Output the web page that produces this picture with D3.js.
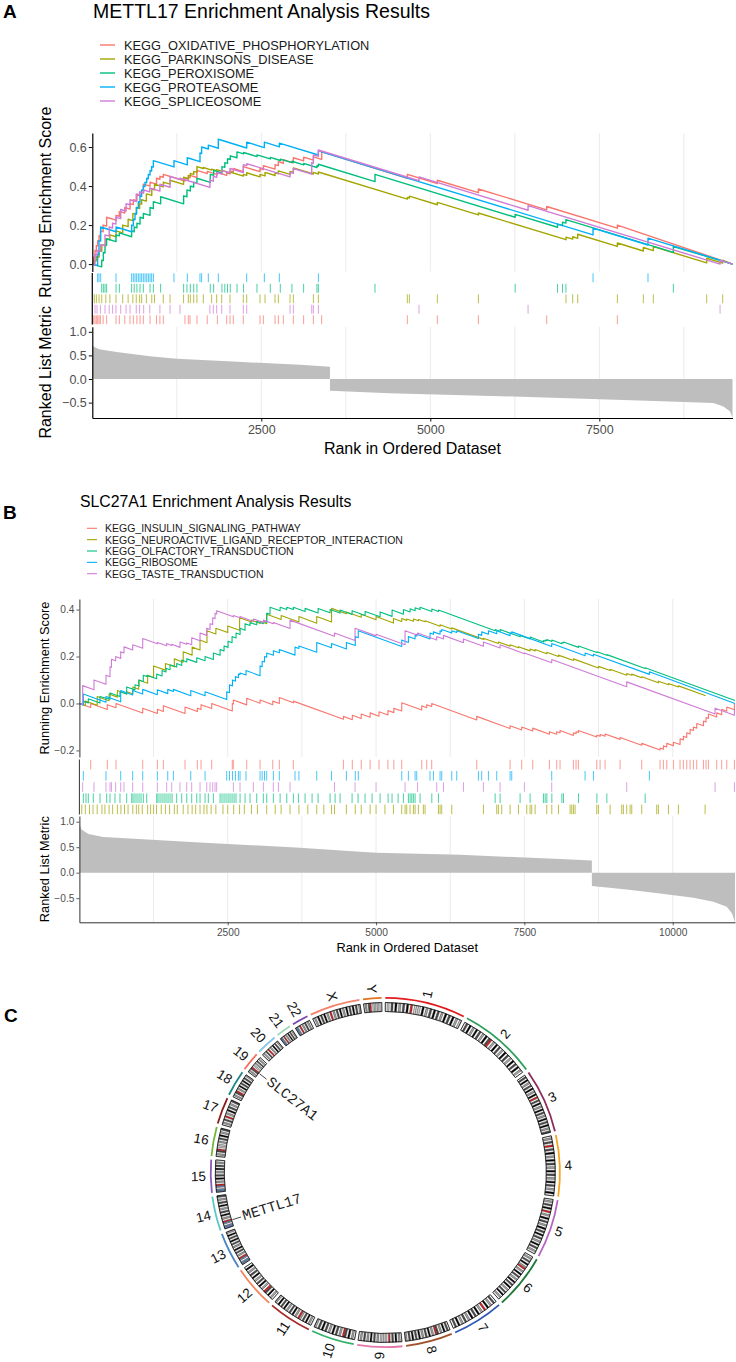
<!DOCTYPE html>
<meta charset="utf-8">
<style>
    body { margin: 0; background: #fff; }
    svg { display: block; font-family: "Liberation Sans", Arial, Helvetica, sans-serif; }
    .tick text { fill: #4d4d4d; }
</style>
<body>
<svg id="fig"></svg>
</body>
<script src="https://cdn.jsdelivr.net/npm/d3@7"></script>
<script>

    // ---------- panel A data (METTL17) ----------
    var setsA = ['KEGG_OXIDATIVE_PHOSPHORYLATION', 'KEGG_PARKINSONS_DISEASE', 'KEGG_PEROXISOME',
        'KEGG_PROTEASOME', 'KEGG_SPLICEOSOME'];
    var sizeA = 9470;
    // running enrichment score: [rank, before hit, after hit]
    var esOxphos = [[0,0,0],[20,0,0.035],[40,0.033,0.07],[60,0.068,0.095],[80,0.093,0.12],[100,0.118,0.145],[120,0.143,0.17],[160,0.166,0.2],[212,0.195,0.24],[351,0.225,0.25],[400,0.245,0.27],[480,0.262,0.29],[558,0.282,0.31],[607,0.305,0.33],[660,0.325,0.355],[706,0.35,0.37],[755,0.365,0.41],[854,0.4,0.42],[950,0.41,0.44],[1000,0.435,0.45],[1050,0.445,0.46],[1371,0.426,0.44],[1420,0.435,0.445],[1445,0.442,0.455],[1548,0.444,0.48],[1700,0.464,0.475],[1850,0.459,0.47],[1988,0.455,0.468],[2037,0.463,0.478],[2086,0.473,0.49],[2234,0.474,0.5],[2481,0.474,0.49],[2530,0.485,0.505],[2703,0.487,0.51],[2752,0.505,0.525],[2826,0.517,0.535],[2974,0.519,0.545],[3126,0.529,0.548],[3270,0.533,0.55],[3393,0.537,0.575],[4660,0.44,0.46],[5104,0.413,0.43],[5711,0.366,0.385],[6722,0.278,0.295],[7767,0.184,0.2],[9470,0,0]];
    var esParkinson = [[0,0,0],[30,-0.003,0.02],[60,0.017,0.04],[100,0.036,0.07],[140,0.066,0.1],[200,0.094,0.13],[260,0.124,0.15],[351,0.14,0.17],[450,0.16,0.2],[530,0.192,0.23],[600,0.223,0.26],[650,0.255,0.29],[700,0.285,0.31],[730,0.307,0.33],[800,0.323,0.36],[880,0.352,0.385],[920,0.381,0.41],[1050,0.396,0.42],[1150,0.41,0.43],[1350,0.409,0.445],[1420,0.438,0.455],[1450,0.452,0.465],[1500,0.46,0.475],[1548,0.47,0.5],[1642,0.49,0.495],[1765,0.482,0.487],[1840,0.479,0.484],[1914,0.476,0.48],[2037,0.467,0.472],[2234,0.451,0.46],[2284,0.455,0.468],[2481,0.447,0.46],[2555,0.452,0.47],[2703,0.454,0.468],[2752,0.463,0.478],[2925,0.46,0.475],[2974,0.47,0.493],[3270,0.462,0.47],[3344,0.462,0.472],[4660,0.333,0.342],[4690,0.339,0.348],[5104,0.304,0.316],[5711,0.252,0.262],[7007,0.125,0.138],[7106,0.128,0.14],[7180,0.132,0.153],[7767,0.091,0.108],[8151,0.067,0.085],[8299,0.069,0.09],[9088,0.006,0.03],[9325,0.005,0.02],[9470,0,0]];
    var esPeroxisome = [[0,0,0],[139,-0.014,0.02],[163,0.018,0.06],[188,0.057,0.1],[212,0.097,0.13],[351,0.115,0.15],[400,0.145,0.16],[582,0.14,0.17],[620,0.166,0.19],[660,0.186,0.21],[706,0.205,0.24],[755,0.235,0.26],[854,0.25,0.29],[903,0.285,0.32],[1011,0.309,0.345],[1351,0.309,0.35],[1400,0.345,0.38],[1450,0.375,0.4],[1500,0.395,0.42],[1548,0.415,0.44],[1745,0.419,0.46],[1795,0.455,0.48],[1918,0.467,0.5],[1960,0.496,0.52],[2000,0.516,0.54],[2041,0.536,0.555],[2140,0.545,0.575],[2238,0.565,0.572],[2436,0.551,0.56],[2633,0.539,0.547],[2781,0.531,0.538],[2953,0.52,0.527],[3126,0.509,0.516],[3323,0.495,0.505],[3344,0.503,0.512],[4182,0.423,0.46],[6255,0.24,0.255],[6882,0.189,0.205],[6956,0.197,0.215],[7006,0.21,0.228],[8595,0.06,0.09],[9470,0,0]];
    var esProteasome = [[0,0,0],[79,-0.008,0.05],[99,0.048,0.12],[124,0.118,0.19],[351,0.166,0.19],[582,0.166,0.2],[607,0.197,0.23],[632,0.227,0.26],[656,0.257,0.29],[681,0.287,0.32],[706,0.317,0.35],[730,0.347,0.38],[755,0.377,0.4],[780,0.397,0.42],[805,0.417,0.44],[829,0.437,0.46],[854,0.457,0.48],[878,0.477,0.5],[903,0.497,0.53],[1208,0.498,0.53],[1405,0.509,0.545],[1593,0.525,0.57],[1617,0.567,0.6],[1716,0.59,0.61],[1864,0.594,0.64],[2284,0.595,0.625],[2545,0.597,0.625],[2767,0.601,0.62],[3344,0.559,0.58],[7407,0.15,0.184],[8220,0.098,0.133],[9470,0,0]];
    var esSpliceosome = [[0,0,0],[40,-0.004,0.05],[70,0.047,0.07],[120,0.065,0.1],[188,0.093,0.15],[250,0.143,0.19],[300,0.185,0.21],[350,0.205,0.24],[420,0.233,0.28],[500,0.272,0.31],[558,0.304,0.33],[650,0.32,0.36],[700,0.355,0.37],[760,0.364,0.38],[850,0.37,0.39],[1000,0.374,0.41],[1150,0.394,0.45],[1297,0.434,0.44],[1740,0.393,0.43],[1790,0.425,0.45],[1840,0.445,0.47],[1914,0.462,0.48],[2037,0.467,0.49],[2234,0.469,0.51],[2284,0.505,0.515],[2925,0.447,0.47],[2974,0.465,0.49],[3246,0.461,0.52],[3270,0.517,0.56],[3344,0.552,0.585],[4833,0.427,0.447],[6446,0.276,0.3],[9286,0,0.02],[9470,0,0]];
    // gene hits (rank positions)
    var hitsOxphos = [20,40,60,80,100,120,160,212,351,400,480,558,607,660,706,755,854,950,1000,1050,1371,1420,1445,1548,1700,1850,1988,2037,2086,2234,2481,2530,2703,2752,2826,2974,3126,3270,3393,4660,5104,5711,6722,7767];
    var hitsParkinson = [30,60,100,140,200,260,351,450,530,600,650,700,730,800,880,920,1050,1150,1350,1420,1450,1500,1548,1642,1765,1840,1914,2037,2234,2284,2481,2555,2703,2752,2925,2974,3270,3344,4660,4690,5104,5711,7007,7106,7180,7767,8151,8299,9088,9325];
    var hitsPeroxisome = [139,163,188,212,351,400,582,620,660,706,755,854,903,1011,1351,1400,1450,1500,1548,1745,1795,1918,1960,2000,2041,2140,2238,2436,2633,2781,2953,3126,3323,3344,4182,6255,6882,6956,7006,8595];
    var hitsProteasome = [79,99,124,351,582,607,632,656,681,706,730,755,780,805,829,854,878,903,1208,1405,1593,1617,1716,1864,2284,2545,2767,3344,7407,8220];
    var hitsSpliceosome = [40,70,120,188,250,300,350,420,500,558,650,700,760,850,1000,1150,1297,1740,1790,1840,1914,2037,2234,2284,2925,2974,3246,3270,3344,4833,6446,9286];
    // ranked list metric: [rank, value]
    var rankMetricA = [[1,0.7],[100,0.63],[360,0.57],[850,0.48],[1250,0.43],[2080,0.37],[3070,0.3],[3515,0.26],[3516,-0.25],[4400,-0.3],[6230,-0.37],[8200,-0.46],[9190,-0.51],[9335,-0.58],[9435,-0.69],[9470,-0.83]];

    // ---------- panel B data (SLC27A1) ----------
    var setsB = ['KEGG_INSULIN_SIGNALING_PATHWAY', 'KEGG_NEUROACTIVE_LIGAND_RECEPTOR_INTERACTION',
        'KEGG_OLFACTORY_TRANSDUCTION', 'KEGG_RIBOSOME', 'KEGG_TASTE_TRANSDUCTION'];
    var sizeB = 11050;
    var esInsulin = [[0,0,0],[190,-0.017,0],[470,-0.026,-0.005],[617,-0.018,0],[1067,-0.041,-0.02],[1314,-0.043,-0.025],[1415,-0.034,-0.01],[1780,-0.043,-0.015],[1988,-0.034,-0.02],[2050,-0.026,-0.005],[2230,-0.021,0],[2577,-0.032,0],[2595,-0.002,0.015],[2820,-0.006,0.022],[3045,0.001,0.015],[3259,-0.005,0.01],[3370,0,0.025],[3606,0.003,0.01],[4450,-0.067,-0.055],[4600,-0.069,-0.05],[4750,-0.064,-0.045],[4900,-0.059,-0.04],[5050,-0.054,-0.035],[5200,-0.049,-0.03],[5300,-0.039,-0.02],[5433,-0.032,0.003],[5770,-0.028,-0.01],[5854,-0.018,-0.005],[5938,-0.013,0],[6697,-0.07,-0.055],[7259,-0.107,-0.095],[7455,-0.113,-0.1],[7641,-0.117,-0.105],[7922,-0.131,-0.12],[8045,-0.131,-0.12],[8101,-0.125,-0.115],[8326,-0.136,-0.125],[8371,-0.129,-0.12],[8410,-0.124,-0.115],[8720,-0.143,-0.135],[8776,-0.14,-0.132],[8860,-0.14,-0.13],[9113,-0.153,-0.145],[9478,-0.178,-0.17],[9787,-0.198,-0.19],[9843,-0.195,-0.18],[9900,-0.185,-0.17],[10012,-0.18,-0.165],[10124,-0.175,-0.15],[10180,-0.155,-0.14],[10237,-0.145,-0.125],[10293,-0.13,-0.11],[10349,-0.115,-0.1],[10405,-0.105,-0.085],[10518,-0.095,-0.075],[10562,-0.079,-0.06],[10602,-0.064,-0.045],[10742,-0.058,-0.04],[10826,-0.048,-0.025],[10911,-0.033,-0.015],[11040,-0.027,0],[11050,0,0]];
    var esNeuroactive = [[0,0,0],[100,-0.009,0.01],[300,-0.008,0.03],[500,0.012,0.04],[640,0.027,0.055],[800,0.04,0.05],[900,0.041,0.07],[1000,0.061,0.1],[1150,0.086,0.12],[1250,0.111,0.16],[1450,0.142,0.17],[1600,0.156,0.19],[1750,0.176,0.22],[1900,0.206,0.24],[2033,0.228,0.27],[2150,0.259,0.31],[2300,0.296,0.32],[2500,0.302,0.33],[2700,0.312,0.365],[2900,0.347,0.355],[3050,0.341,0.35],[3157,0.34,0.38],[3400,0.358,0.375],[3700,0.347,0.37],[4000,0.342,0.37],[4250,0.347,0.405],[4500,0.382,0.39],[4750,0.367,0.38],[5000,0.357,0.37],[5293,0.343,0.362],[5433,0.349,0.362],[5517,0.354,0.36],[5630,0.35,0.36],[5714,0.352,0.358],[5826,0.348,0.352],[6079,0.329,0.335],[6276,0.317,0.322],[6810,0.273,0.278],[7062,0.255,0.262],[7259,0.244,0.25],[7400,0.237,0.242],[7596,0.224,0.232],[7681,0.224,0.23],[7877,0.212,0.218],[8074,0.2,0.206],[8327,0.183,0.19],[8748,0.151,0.158],[8945,0.14,0.146],[9225,0.12,0.128],[9310,0.12,0.125],[9478,0.11,0.114],[9759,0.088,0.095],[9928,0.08,0.085],[10096,0.07,0.075],[10546,0.034,0.036]];
    var esOlfactory = [[0,0,0],[66,-0.006,0.01],[150,0.002,0.02],[347,0.002,0.03],[516,0.018,0.045],[684,0.03,0.05],[797,0.04,0.07],[937,0.058,0.08],[1005,0.074,0.1],[1077,0.093,0.12],[1135,0.115,0.12],[1303,0.105,0.125],[1393,0.117,0.14],[1460,0.134,0.15],[1528,0.144,0.165],[1640,0.155,0.17],[1725,0.162,0.185],[1810,0.177,0.19],[1978,0.175,0.195],[2118,0.182,0.2],[2258,0.187,0.215],[2371,0.205,0.23],[2438,0.224,0.245],[2506,0.239,0.265],[2573,0.259,0.285],[2640,0.279,0.3],[2708,0.294,0.32],[2792,0.312,0.34],[2876,0.332,0.345],[2989,0.335,0.35],[3100,0.34,0.35],[3158,0.345,0.385],[3213,0.38,0.41],[3383,0.395,0.41],[3495,0.4,0.41],[3606,0.4,0.41],[3804,0.392,0.405],[4023,0.385,0.405],[4225,0.386,0.4],[4394,0.385,0.398],[4596,0.379,0.395],[4815,0.375,0.392],[5068,0.369,0.39],[5270,0.371,0.398],[5461,0.38,0.4],[5574,0.39,0.403],[5658,0.395,0.408],[5742,0.4,0.41],[5940,0.392,0.402],[6051,0.392,0.398],[7007,0.31,0.315],[7091,0.307,0.315],[7428,0.284,0.29],[7597,0.275,0.283],[7821,0.262,0.268],[7850,0.265,0.27],[7879,0.267,0.272],[7963,0.264,0.27],[8132,0.254,0.26],[8159,0.258,0.262],[8412,0.239,0.245],[8722,0.217,0.22],[8890,0.205,0.208],[9536,0.149,0.152],[11050,0.013,0.013]];
    var esRibosome = [[0,0,0],[66,-0.006,0.04],[448,0.005,0.03],[696,0.007,0.055],[898,0.036,0.055],[1067,0.04,0.06],[1314,0.037,0.058],[1489,0.042,0.06],[1584,0.051,0.06],[1877,0.033,0.055],[2118,0.033,0.05],[2483,0.017,0.05],[2530,0.046,0.08],[2580,0.075,0.1],[2630,0.095,0.115],[2680,0.11,0.125],[2708,0.123,0.13],[2808,0.121,0.14],[3045,0.118,0.16],[3080,0.157,0.18],[3120,0.177,0.2],[3157,0.197,0.215],[3269,0.205,0.225],[3370,0.216,0.23],[3634,0.206,0.24],[3700,0.234,0.245],[4000,0.218,0.26],[4250,0.237,0.255],[4500,0.232,0.26],[4650,0.247,0.285],[4700,0.28,0.31],[5433,0.243,0.27],[5545,0.26,0.285],[5658,0.275,0.29],[5686,0.287,0.295],[5910,0.275,0.3],[5967,0.295,0.305],[6079,0.295,0.31],[6107,0.307,0.315],[6276,0.3,0.31],[6360,0.302,0.31],[6725,0.277,0.295],[6781,0.29,0.305],[6894,0.295,0.31],[7034,0.297,0.31],[7259,0.289,0.3],[7287,0.298,0.305],[7961,0.243,0.255],[8523,0.203,0.215],[8664,0.202,0.21],[9607,0.124,0.135],[11050,0,0]];
    var esTaste = [[0,0,0],[55,-0.005,0.076],[246,0.058,0.1],[448,0.082,0.12],[516,0.114,0.156],[540,0.154,0.188],[611,0.182,0.2],[696,0.192,0.22],[752,0.215,0.241],[898,0.228,0.25],[1067,0.235,0.277],[1314,0.254,0.26],[1471,0.246,0.255],[1556,0.247,0.252],[1695,0.239,0.262],[1809,0.252,0.258],[1893,0.25,0.28],[2033,0.267,0.3],[2146,0.29,0.32],[2202,0.315,0.34],[2247,0.336,0.365],[2286,0.361,0.384],[2314,0.381,0.395],[2595,0.369,0.375],[2707,0.365,0.37],[2932,0.349,0.36],[3101,0.345,0.355],[3269,0.34,0.345],[3550,0.319,0.355],[4300,0.286,0.3],[4646,0.268,0.32],[5000,0.288,0.295],[5489,0.25,0.31],[5700,0.291,0.3],[6023,0.27,0.285],[6136,0.275,0.29],[6473,0.259,0.275],[6809,0.244,0.262],[7090,0.236,0.25],[7500,0.212,0.215],[7961,0.173,0.187],[9225,0.071,0.092],[10714,-0.045,-0.02],[11040,-0.05,-0.03],[11050,-0.031,-0.031]];
    var hitsInsulin = [190,470,617,1067,1314,1415,1780,1988,2050,2230,2577,2595,2820,3045,3259,3370,3606,4450,4600,4750,4900,5050,5200,5300,5433,5770,5854,5938,6697,7259,7455,7641,7922,8045,8101,8326,8371,8410,8720,8776,8860,9113,9478,9787,9843,9900,10012,10124,10180,10237,10293,10349,10405,10518,10562,10602,10742,10826,10911,11040];
    var hitsNeuroactive = [40,100,170,230,300,380,430,500,560,640,700,760,820,900,960,1000,1060,1150,1200,1250,1300,1380,1450,1520,1600,1650,1750,1830,1900,1960,2033,2100,2150,2220,2300,2420,2500,2600,2700,2780,2900,3000,3157,3300,3400,3550,3700,3850,4000,4120,4250,4300,4500,4650,4750,4900,5000,5150,5293,5433,5489,5517,5573,5630,5658,5714,5798,5826,6051,6079,6107,6276,6810,7034,7062,7118,7259,7400,7540,7596,7624,7681,7877,7962,8074,8271,8299,8327,8355,8720,8748,8945,9141,9169,9225,9282,9310,9478,9731,9759,9928,10096,10546];
    var hitsOlfactory = [66,111,150,234,347,460,516,600,684,797,882,904,937,971,1005,1039,1077,1135,1303,1325,1359,1393,1427,1460,1494,1528,1562,1640,1725,1810,1893,1978,2033,2118,2173,2258,2371,2404,2438,2472,2506,2539,2573,2607,2640,2708,2792,2876,2989,3100,3158,3269,3383,3495,3606,3691,3804,3922,4023,4225,4310,4394,4596,4697,4815,4933,5068,5203,5270,5372,5461,5545,5574,5602,5629,5658,5742,5940,6051,7007,7091,7428,7597,7821,7850,7879,7963,8132,8159,8412,8722,8890,9536];
    var hitsRibosome = [66,448,696,898,1067,1314,1489,1584,1877,2118,2483,2530,2580,2630,2680,2708,2808,3045,3080,3120,3157,3269,3370,3634,3700,4000,4250,4500,4650,4700,5433,5545,5658,5686,5910,5967,6079,6107,6276,6360,6725,6781,6894,7034,7259,7287,7961,8523,8664,9607];
    var hitsTaste = [55,246,448,516,540,611,696,752,898,1067,1314,1471,1556,1695,1809,1893,2033,2146,2202,2247,2286,2314,2595,2707,2932,3101,3269,3354,3550,4300,4646,5000,5489,5700,6023,6136,6473,6809,7090,7500,7961,9225,10714,11040];
    var rankMetricB = [[1,0.97],[30,0.85],[150,0.76],[400,0.7],[1000,0.66],[2030,0.59],[3720,0.49],[4730,0.41],[5010,0.39],[6416,0.35],[8102,0.27],[8637,0.24],[8638,-0.26],[9226,-0.33],[9788,-0.41],[10350,-0.49],[10687,-0.57],[10912,-0.67],[11000,-0.8],[11050,-0.97]];

    // ---------- panel C data (ideogram) ----------
    var chromNames = ['1','2','3','4','5','6','7','8','9','10','11','12','13','14','15','16','17','18','19','20','21','22','X','Y'];
    var chromLengths = [248.96,242.19,198.30,190.21,181.54,170.81,159.35,145.14,138.39,133.80,135.09,133.28,114.36,107.04,101.99,90.34,83.26,80.37,58.62,64.44,46.71,50.82,156.04,57.23];
    // band stains along each chromosome: 0 gneg, 1-4 gpos25..100, c acen, v gvar, s stalk
    var chromBands = [
        '0103040203040c0vvv0402030403020403040201',
        '0304020403020403c02040302040302040304020',
        '030402030402040c0304020403020403040203',
        '02030c030402040302040302040302040',
        '0203040c0204030204030403020403020',
        '02030402c02040302040304020304020',
        '0302040c0204030402030204030',
        '03040203c020403020403040302',
        '0204030c0vvvv0203040203020',
        '020403c0203040203040302',
        '02040302c0204030204030402',
        '020403c02040302040302040',
        'ss0sc020304020304030402',
        'ss0sc0204030204030203',
        'ss0sc020403020403020',
        '0203c0vv0203040203',
        '02030c0204030203',
        '0203c020403040302',
        '0203c0v0203020',
        '02030c02040302',
        'ss0c02040302',
        'ss0c0203020',
        '02040304020c020304020403040302',
        '0203c0vvvvv0'
    ];
    var geneNames = ['SLC27A1', 'METTL17'];
    var geneChroms = ['19', '14'];
    var genePositions = [17.5, 20.9];

    // ---------- styles ----------
    var hue5 = ['#F8766D', '#A3A500', '#00BF7D', '#00B0F6', '#CF7BD6'];
    var chromColors = ['#E41A1C','#2E9E5B','#8E2B5E','#F5A623','#B666C2','#1F7A3A','#2F57B8','#A0522D','#E377A8','#35B26A','#A52A2A','#F4845F','#4A86C5','#5BC8C8','#8A5BB5','#70B83A','#8B1A1A','#1B8585','#F2705E','#87C6E8','#9ED9B4','#7D4AA8','#F4826A','#E37222'];
    var bandFill = {'0': '#FFFFFF', '1': '#D2D2D2', '2': '#A8A8A8', '3': '#4A4A4A', '4': '#000000',
        'c': '#E41A1C', 'v': '#DCDCDC', 's': '#6C8EBF'};

    var svg = d3.select('#fig').attr('width', 736).attr('height', 1362);

    function esPoints(trip) {
        var pts = [];
        trip.forEach(function (t) {
            pts.push([t[0], t[1]]);
            if (t[2] !== t[1]) pts.push([t[0], t[2]]);
        });
        return pts;
    }

    function drawGsea(p) {
        var g = svg.append('g');
        var x = d3.scaleLinear().domain([0, p.n]).range([p.left, p.right]);
        var yEs = d3.scaleLinear().domain(p.esDomain).range([p.esBottom, p.esTop]);
        var yRank = d3.scaleLinear().domain(p.rankDomain).range([p.rankBottom, p.rankTop]);
        var grid = d3.range(1250, p.n, 1250);

        // vertical grid in ES and rank panels
        [[p.esTop, p.esBottom], [p.rankTop, p.rankBottom]].forEach(function (r) {
            g.append('g').selectAll('line').data(grid).join('line')
                .attr('x1', function (d) { return x(d); })
                .attr('x2', function (d) { return x(d); })
                .attr('y1', r[0]).attr('y2', r[1])
                .attr('stroke', '#EBEBEB').attr('stroke-width', 1);
        });

        // running enrichment score lines
        var line = d3.line()
            .x(function (d) { return x(d[0]); })
            .y(function (d) { return yEs(d[1]); });
        p.sets.forEach(function (s) {
            g.append('path')
                .attr('d', line(esPoints(s.es)))
                .attr('fill', 'none')
                .attr('stroke', s.color)
                .attr('stroke-width', p.lineW)
                .attr('stroke-linejoin', 'round');
        });

        // rug of hits
        var rowH = (p.rugBottom - p.rugTop) / p.sets.length;
        p.rugOrder.forEach(function (si, row) {
            var s = p.sets[si];
            g.append('g').selectAll('line').data(s.hits).join('line')
                .attr('x1', function (d) { return x(d); })
                .attr('x2', function (d) { return x(d); })
                .attr('y1', p.rugTop + row * rowH + 0.8)
                .attr('y2', p.rugTop + (row + 1) * rowH - 0.8)
                .attr('stroke', s.color)
                .attr('stroke-opacity', 0.8)
                .attr('stroke-width', 0.9);
        });

        // ranked list metric
        var area = d3.area()
            .x(function (d) { return x(d[0]); })
            .y0(yRank(0))
            .y1(function (d) { return yRank(d[1]); });
        g.append('path').attr('d', area(p.rank)).attr('fill', '#BEBEBE');

        // axes
        var fmt = d3.format('.1f');
        function styleAxis(sel) {
            sel.select('.domain').attr('stroke', p.axisCol).attr('stroke-width', p.axisW);
            sel.selectAll('.tick line').attr('stroke', p.axisCol).attr('stroke-width', p.axisW * 0.8);
            sel.selectAll('.tick text').attr('font-size', p.tickFont).attr('fill', '#4d4d4d')
                .attr('font-family', '"Liberation Sans", Arial, sans-serif');
        }
        g.append('g').attr('transform', 'translate(' + p.left + ',0)')
            .call(d3.axisLeft(yEs).tickValues(p.esTicks).tickFormat(fmt).tickSize(p.tick).tickSizeOuter(0).tickPadding(2))
            .call(styleAxis);
        g.append('line').attr('x1', p.left).attr('x2', p.left)
            .attr('y1', p.rugTop + 0.5).attr('y2', p.rugBottom - 0.5)
            .attr('stroke', p.axisCol).attr('stroke-width', p.axisW);
        g.append('g').attr('transform', 'translate(' + p.left + ',0)')
            .call(d3.axisLeft(yRank).tickValues(p.rankTicks).tickFormat(fmt).tickSize(p.tick).tickSizeOuter(0).tickPadding(2))
            .call(styleAxis);
        g.append('g').attr('transform', 'translate(0,' + p.rankBottom + ')')
            .call(d3.axisBottom(x).tickValues(p.xTicks).tickFormat(d3.format('d')).tickSize(p.tick).tickSizeOuter(0).tickPadding(p.xPad))
            .call(styleAxis);

        // axis titles
        g.append('text')
            .attr('transform', 'translate(' + p.yTitleX + ',' + (p.esTop + p.esBottom) / 2 + ') rotate(-90)')
            .attr('text-anchor', 'middle').attr('dominant-baseline', 'central')
            .attr('font-size', p.titleFont).text('Running Enrichment Score');
        g.append('text')
            .attr('transform', 'translate(' + p.yTitleX + ',' + (p.rankTop + p.rankBottom) / 2 + ') rotate(-90)')
            .attr('text-anchor', 'middle').attr('dominant-baseline', 'central')
            .attr('font-size', p.titleFont).text('Ranked List Metric');
        g.append('text')
            .attr('x', (p.left + p.right) / 2).attr('y', p.xTitleY)
            .attr('text-anchor', 'middle').attr('dominant-baseline', 'central')
            .attr('font-size', p.titleFont).text('Rank in Ordered Dataset');

        // legend
        var lg = g.append('g');
        p.sets.forEach(function (s, i) {
            var yy = p.legendY0 + i * p.legendStep;
            lg.append('line').attr('x1', p.legendX0).attr('x2', p.legendX1)
                .attr('y1', yy).attr('y2', yy)
                .attr('stroke', s.color).attr('stroke-width', p.lineW);
            lg.append('text').attr('x', p.legendTextX).attr('y', yy)
                .attr('dominant-baseline', 'central')
                .attr('font-size', p.legendFont).attr('fill', '#1a1a1a').text(s.name);
        });

        // title and panel letter
        g.append('text').attr('x', p.titleX).attr('y', p.titleY)
            .attr('font-size', p.mainFont).attr('fill', '#000').text(p.title);
        g.append('text').attr('x', 3).attr('y', p.letterY)
            .attr('font-size', p.letterFont).attr('font-weight', 'bold').text(p.letter);
    }

    drawGsea({
        letter: 'A', letterY: 17.5, letterFont: 19,
        title: 'METTL17 Enrichment Analysis Results', titleX: 93, titleY: 18, mainFont: 19.5,
        left: 92.3, right: 732.5, n: sizeA,
        esTop: 133, esBottom: 271.5, esDomain: [-0.038, 0.672], esTicks: [0, 0.2, 0.4, 0.6],
        rugTop: 272.5, rugBottom: 325,
        rankTop: 326.7, rankBottom: 418, rankDomain: [-0.826, 1.108], rankTicks: [-0.5, 0, 0.5, 1],
        xTicks: [2500, 5000, 7500], xPad: 4,
        sets: setsA.map(function (name, i) {
            return {name: name, color: hue5[i],
                es: [esOxphos, esParkinson, esPeroxisome, esProteasome, esSpliceosome][i],
                hits: [hitsOxphos, hitsParkinson, hitsPeroxisome, hitsProteasome, hitsSpliceosome][i]};
        }),
        rugOrder: [3, 2, 1, 4, 0],
        rank: rankMetricA,
        tick: 3.5, axisCol: '#000', axisW: 1.2,
        tickFont: 12.5, titleFont: 16, legendFont: 12.8, lineW: 1.4,
        yTitleX: 45.5, xTitleY: 448.5,
        legendX0: 100, legendX1: 115, legendTextX: 124, legendY0: 45, legendStep: 14
    });

    drawGsea({
        letter: 'B', letterY: 519.3, letterFont: 19,
        title: 'SLC27A1 Enrichment Analysis Results', titleX: 80, titleY: 506.5, mainFont: 15.8,
        left: 79.4, right: 735, n: sizeB,
        esTop: 599, esBottom: 757, esDomain: [-0.228, 0.445], esTicks: [-0.2, 0, 0.2, 0.4],
        rugTop: 759, rugBottom: 815,
        rankTop: 816, rankBottom: 922.3, rankDomain: [-0.973, 1.112], rankTicks: [-0.5, 0, 0.5, 1],
        xTicks: [2500, 5000, 7500, 10000], xPad: 3,
        sets: setsB.map(function (name, i) {
            return {name: name, color: hue5[i],
                es: [esInsulin, esNeuroactive, esOlfactory, esRibosome, esTaste][i],
                hits: [hitsInsulin, hitsNeuroactive, hitsOlfactory, hitsRibosome, hitsTaste][i]};
        }),
        rugOrder: [0, 3, 4, 2, 1],
        rank: rankMetricB,
        tick: 3, axisCol: '#333', axisW: 1,
        tickFont: 10.2, titleFont: 12.8, legendFont: 10.5, lineW: 1.1,
        yTitleX: 44, xTitleY: 947,
        legendX0: 87, legendX1: 97, legendTextX: 105, legendY0: 528.3, legendStep: 11.35
    });

    // ---------- panel C: circular ideogram ----------
    (function () {
        var cx = 385.3, cy = 1172.5;
        var gapDeg = 1.2;
        var total = d3.sum(chromLengths);
        var avail = 360 - gapDeg * chromNames.length;
        var starts = [];
        var acc = 0;
        chromLengths.forEach(function (len, i) {
            starts.push(acc + i * gapDeg);
            acc += len / total * avail;
        });
        function ang(i, mb) { return (starts[i] + mb / total * avail) * Math.PI / 180; }

        var g = svg.append('g').attr('transform', 'translate(' + cx + ',' + cy + ')');
        var bandArc = d3.arc().innerRadius(161).outerRadius(170);
        var colArc = d3.arc().innerRadius(173.7).outerRadius(175.5);

        chromNames.forEach(function (name, i) {
            var len = chromLengths[i];
            var bands = chromBands[i].split('');
            var n = bands.length;
            g.append('g').selectAll('path').data(bands).join('path')
                .attr('d', function (b, j) {
                    return bandArc({startAngle: ang(i, len * j / n), endAngle: ang(i, len * (j + 1) / n)});
                })
                .attr('fill', function (b) { return bandFill[b]; })
                .attr('stroke', '#2a2a2a').attr('stroke-width', 0.35);
            g.append('path')
                .attr('d', bandArc({startAngle: ang(i, 0), endAngle: ang(i, len)}))
                .attr('fill', 'none').attr('stroke', '#000').attr('stroke-width', 0.7);
            g.append('path')
                .attr('d', colArc({startAngle: ang(i, 0), endAngle: ang(i, len)}))
                .attr('fill', chromColors[i]);

            // chromosome label, radial, starting just outside the coloured track
            var a = ang(i, len / 2);
            var deg = a * 180 / Math.PI;
            var R = 179.5;
            var right = Math.sin(a) >= -0.001;
            g.append('text')
                .attr('transform', 'translate(' + (R * Math.sin(a)) + ',' + (-R * Math.cos(a)) + ') rotate(' + (right ? deg - 90 : deg + 90) + ')')
                .attr('text-anchor', right ? 'start' : 'end').attr('dominant-baseline', 'central')
                .attr('font-size', 13.5).attr('fill', '#111').text(name);
        });

        // gene labels, reading inward
        geneNames.forEach(function (gn, k) {
            var ci = chromNames.indexOf(geneChroms[k]);
            var a = ang(ci, genePositions[k]);
            var deg = a * 180 / Math.PI;
            g.append('line')
                .attr('x1', 160 * Math.sin(a)).attr('y1', -160 * Math.cos(a))
                .attr('x2', 151 * Math.sin(a)).attr('y2', -151 * Math.cos(a))
                .attr('stroke', '#333').attr('stroke-width', 0.9);
            g.append('text')
                .attr('transform', 'translate(' + (149 * Math.sin(a)) + ',' + (-149 * Math.cos(a)) + ') rotate(' + (deg + 90) + ')')
                .attr('text-anchor', 'start').attr('dominant-baseline', 'central')
                .attr('font-family', '"Liberation Mono", "DejaVu Sans Mono", monospace')
                .attr('font-size', 14.5).attr('fill', '#222').text(gn);
        });

        svg.append('text').attr('x', 4).attr('y', 1021.7)
            .attr('font-size', 19).attr('font-weight', 'bold').text('C');
    })();

</script>
</html>
